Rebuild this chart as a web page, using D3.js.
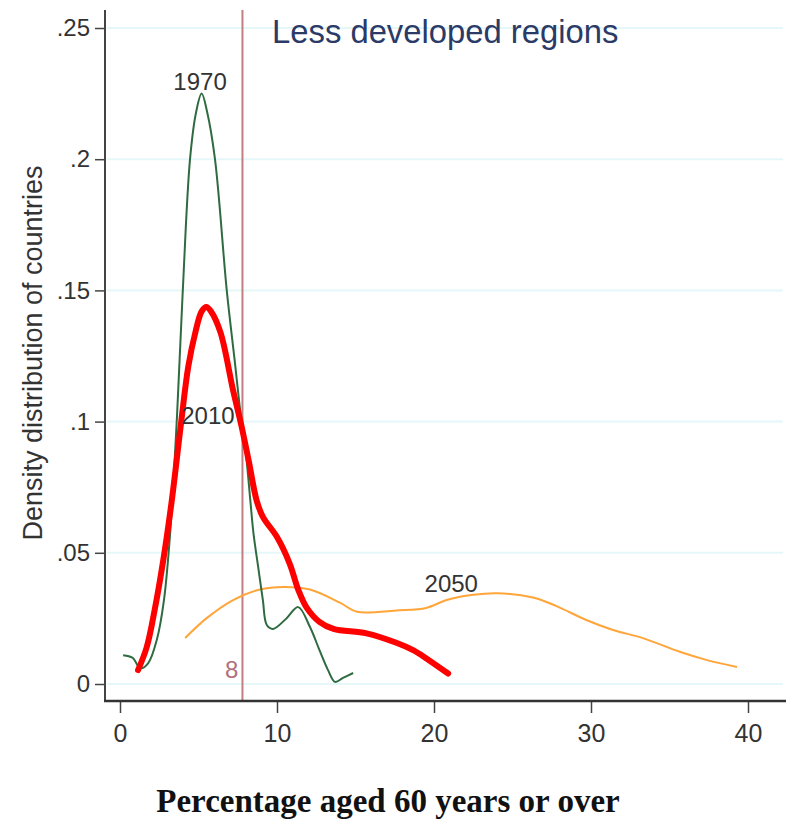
<!DOCTYPE html>
<html>
<head>
<meta charset="utf-8">
<script src="https://cdn.jsdelivr.net/npm/d3@7"></script>
<style>
  html, body { margin: 0; padding: 0; background: #fff; }
  svg { display: block; }
</style>
</head>
<body>
<svg id="chart" width="787" height="819"></svg>
<script>
// ---- data ----
const xTicks = [0, 10, 20, 30, 40];
const yTicks = [0, 0.05, 0.1, 0.15, 0.2, 0.25];
const yTickLabels = ["0", ".05", ".1", ".15", ".2", ".25"];

const series1970X = [0.2, 0.8, 1.3, 1.8, 2.35, 2.8, 3.2, 3.63, 4.0, 4.46, 4.85, 5.2, 5.55, 6.05, 6.8, 7.3, 7.7, 8.0, 8.3, 8.5, 8.8, 9.1, 9.35, 9.75, 10.6, 11.35, 12.1, 12.7, 13.25, 13.7, 14.2, 14.85];
const series1970Y = [0.011, 0.010, 0.006, 0.008, 0.017, 0.032, 0.058, 0.102, 0.150, 0.200, 0.218, 0.225, 0.218, 0.200, 0.150, 0.1235, 0.102, 0.089, 0.070, 0.0575, 0.0446, 0.032, 0.0225, 0.021, 0.025, 0.0293, 0.0217, 0.013, 0.0053, 0.0008, 0.0023, 0.0042];

const series2010X = [1.15, 1.7, 2.2, 2.75, 3.3, 3.9, 4.35, 4.8, 5.2, 5.5, 5.8, 6.4, 7.2, 7.75, 8.2, 8.7, 9.1, 10.0, 10.8, 11.35, 11.9, 12.7, 13.6, 15.7, 17.6, 18.7, 19.7, 20.9];
const series2010Y = [0.0053, 0.014, 0.028, 0.047, 0.070, 0.100, 0.121, 0.134, 0.142, 0.1437, 0.142, 0.134, 0.112, 0.098, 0.085, 0.070, 0.0637, 0.056, 0.046, 0.036, 0.029, 0.0237, 0.021, 0.0193, 0.0157, 0.0128, 0.009, 0.004];

const series2050X = [4.15, 5.5, 7.2, 8.9, 10.4, 12.1, 14.0, 15.1, 16.6, 17.6, 19.5, 20.8, 22.5, 24.0, 26.3, 27.8, 29.7, 31.4, 33.3, 35.7, 37.4, 39.3];
const series2050Y = [0.0175, 0.025, 0.032, 0.036, 0.037, 0.036, 0.031, 0.0275, 0.0275, 0.028, 0.029, 0.032, 0.034, 0.0346, 0.033, 0.0297, 0.0244, 0.0206, 0.0175, 0.0122, 0.0091, 0.0065];

const seriesNames = ["1970", "2010", "2050"];
const labelX = [5.1, 5.6, 21.1];
const labelY = [0.227, 0.1, 0.036];

const thresholdValue = 7.8;
const thresholdLabel = "8";

const titleText = "Less developed regions";
const yTitle = "Density distribution of countries";
const xTitle = "Percentage aged 60 years or over";

// ---- drawing ----
const svg = d3.select("#chart");
const x = d3.scaleLinear().domain([0, 40]).range([120, 748]);
const y = d3.scaleLinear().domain([0, 0.25]).range([684, 28]);

// gridlines
svg.append("g").selectAll("line").data(yTicks).join("line")
  .attr("x1", 107).attr("x2", 783)
  .attr("y1", d => y(d)).attr("y2", d => y(d))
  .attr("stroke", "#e6f7f9").attr("stroke-width", 2);

// threshold vertical line
svg.append("line")
  .attr("x1", x(thresholdValue)).attr("x2", x(thresholdValue))
  .attr("y1", 10).attr("y2", 701)
  .attr("stroke", "#c27f82").attr("stroke-width", 2);
svg.append("text")
  .attr("x", x(thresholdValue) - 4).attr("y", 678)
  .attr("text-anchor", "end")
  .attr("font-family", "Liberation Sans, Arial, sans-serif")
  .attr("font-size", 24)
  .attr("fill", "#b0707c")
  .text(thresholdLabel);

// axes
const yAxis = d3.axisLeft(y).tickValues(yTicks)
  .tickFormat((d, i) => yTickLabels[i]).tickSize(10).tickPadding(5);
const gy = svg.append("g").attr("transform", "translate(105,0)").call(yAxis);
gy.select(".domain").remove();
gy.selectAll(".tick line").attr("stroke", "#444").attr("stroke-width", 1.5);
gy.selectAll(".tick text").attr("font-family", "Liberation Sans, Arial, sans-serif")
  .attr("font-size", 24).attr("fill", "#333");

const xAxis = d3.axisBottom(x).tickValues(xTicks).tickSize(12).tickPadding(11);
const gx = svg.append("g").attr("transform", "translate(0,701)").call(xAxis);
gx.select(".domain").remove();
gx.selectAll(".tick line").attr("stroke", "#444").attr("stroke-width", 1.5);
gx.selectAll(".tick text").attr("font-family", "Liberation Sans, Arial, sans-serif")
  .attr("font-size", 25).attr("fill", "#333");

svg.append("line").attr("x1", 105).attr("x2", 105).attr("y1", 10).attr("y2", 702)
  .attr("stroke", "#444").attr("stroke-width", 2);
svg.append("line").attr("x1", 104).attr("x2", 786).attr("y1", 701).attr("y2", 701)
  .attr("stroke", "#333").attr("stroke-width", 2.5);

// curves
const line = d3.line().x(d => x(d[0])).y(d => y(d[1])).curve(d3.curveCatmullRom.alpha(0.5));
const zipXY = (xs, ys) => xs.map((v, i) => [v, ys[i]]);

svg.append("path").datum(zipXY(series2050X, series2050Y))
  .attr("d", line).attr("fill", "none")
  .attr("stroke", "#ffa53a").attr("stroke-width", 2).attr("stroke-linejoin", "round");
svg.append("path").datum(zipXY(series1970X, series1970Y))
  .attr("d", line).attr("fill", "none")
  .attr("stroke", "#2f6b40").attr("stroke-width", 2).attr("stroke-linejoin", "round");
svg.append("path").datum(zipXY(series2010X, series2010Y))
  .attr("d", line).attr("fill", "none")
  .attr("stroke", "#ff0000").attr("stroke-width", 6)
  .attr("stroke-linejoin", "round").attr("stroke-linecap", "round");

// series labels
svg.append("g").selectAll("text").data(seriesNames).join("text")
  .attr("x", (d, i) => x(labelX[i]))
  .attr("y", (d, i) => y(labelY[i]) + 2)
  .attr("text-anchor", "middle")
  .attr("font-family", "Liberation Sans, Arial, sans-serif")
  .attr("font-size", 24).attr("fill", "#333")
  .text(d => d);

// title
svg.append("text").attr("x", 272).attr("y", 43)
  .attr("font-family", "Liberation Sans, Arial, sans-serif")
  .attr("font-size", 32.8).attr("fill", "#2b3a66")
  .text(titleText);

// y title
svg.append("text")
  .attr("transform", "translate(42,353) rotate(-90)")
  .attr("text-anchor", "middle")
  .attr("font-family", "Liberation Sans, Arial, sans-serif")
  .attr("font-size", 27).attr("fill", "#333")
  .text(yTitle);

// x title
svg.append("text").attr("x", 388).attr("y", 812)
  .attr("text-anchor", "middle")
  .attr("font-family", "Liberation Serif, Times New Roman, serif")
  .attr("font-weight", "bold")
  .attr("font-size", 33).attr("fill", "#111")
  .text(xTitle);
</script>
</body>
</html>
